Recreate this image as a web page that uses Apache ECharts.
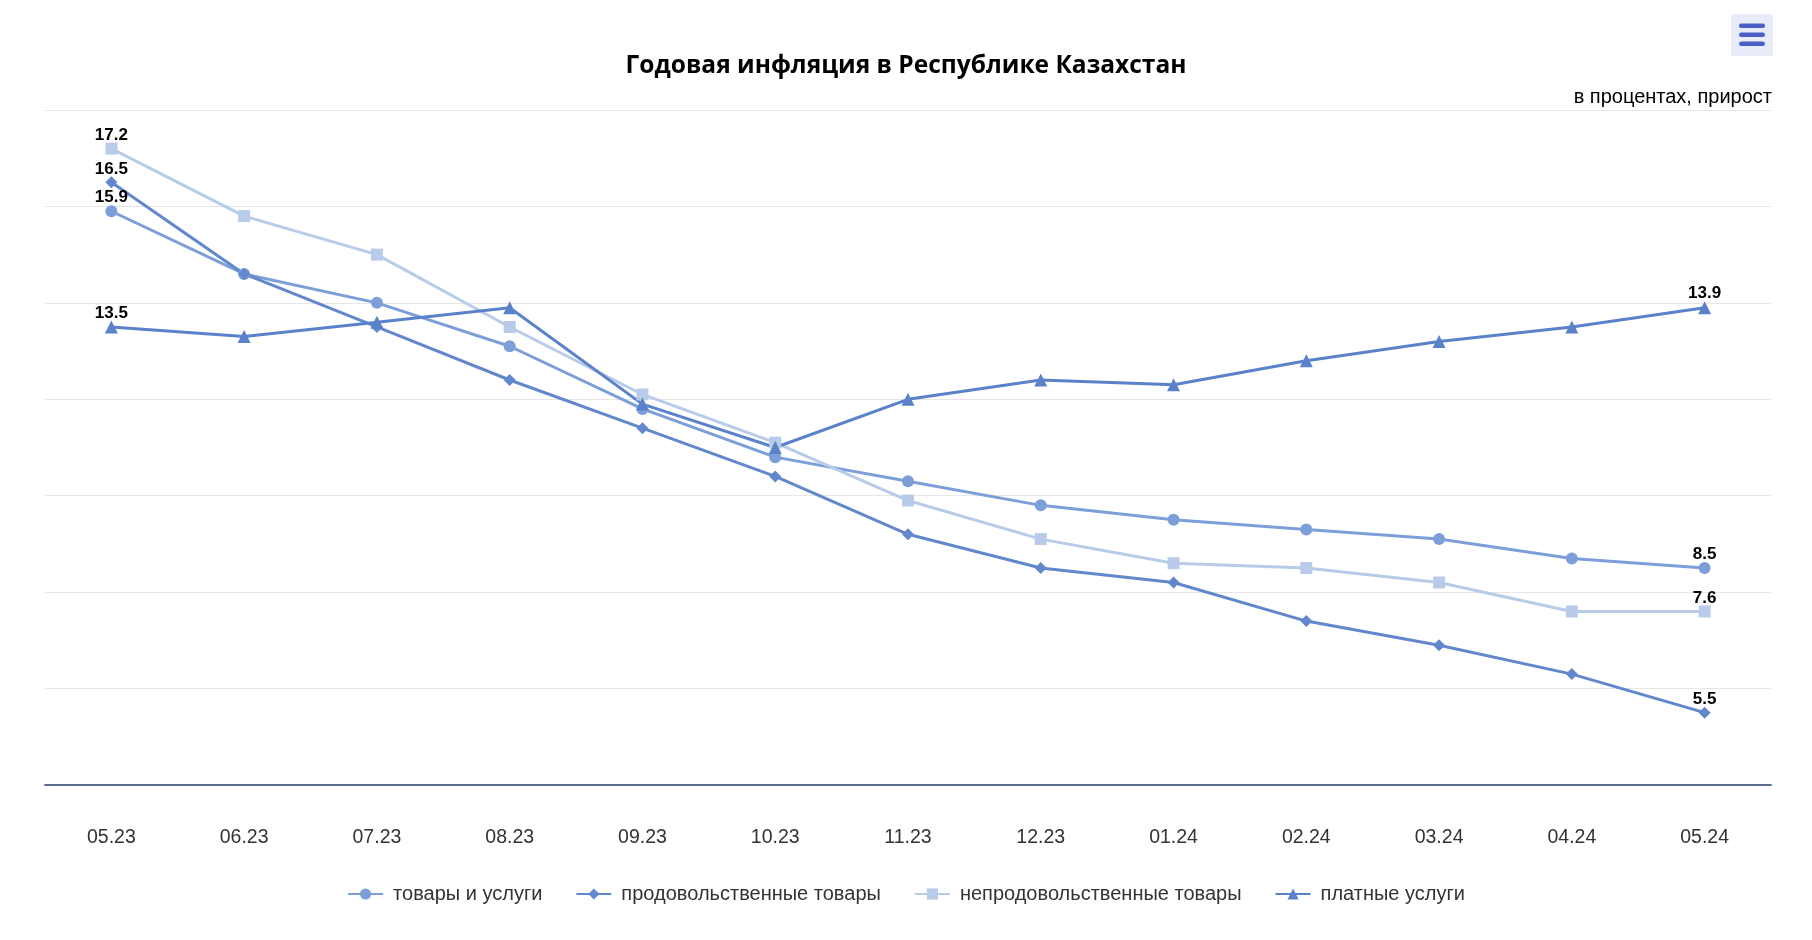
<!DOCTYPE html>
<html>
<head>
<meta charset="utf-8">
<script src="https://cdn.jsdelivr.net/npm/echarts@6/dist/echarts.min.js"></script>
<style>
html,body{margin:0;padding:0;background:#fff;}
#chart{width:1812px;height:940px;}
</style>
</head>
<body>
<div id="chart"></div>
<script>
const categories = ['05.23','06.23','07.23','08.23','09.23','10.23','11.23','12.23','01.24','02.24','03.24','04.24','05.24'];
const goodsServices = [15.9,14.6,14.0,13.1,11.8,10.8,10.3,9.8,9.5,9.3,9.1,8.7,8.5];
const foodGoods = [16.5,14.6,13.5,12.4,11.4,10.4,9.2,8.5,8.2,7.4,6.9,6.3,5.5];
const nonFoodGoods = [17.2,15.8,15.0,13.5,12.1,11.1,9.9,9.1,8.6,8.5,8.2,7.6,7.6];
const paidServices = [13.5,13.3,13.6,13.9,11.9,11.0,12.0,12.4,12.3,12.8,13.2,13.5,13.9];
const seriesNames = ['товары и услуги','продовольственные товары','непродовольственные товары','платные услуги'];
const titleText = 'Годовая инфляция в Республике Казахстан';
const subtitleText = 'в процентах, прирост';

const chart = echarts.init(document.getElementById('chart'));
const last = categories.length - 1;
function mk(name, data, color, symbol, size) {
  return {
    name: name, type: 'line', data: data,
    symbol: symbol, symbolSize: size,
    lineStyle: {color: color, width: 3},
    itemStyle: {color: color},
    label: {
      show: true, position: 'top', distance: -1,
      fontFamily: 'Liberation Sans', fontWeight: 'bold', fontSize: 17, color: '#000',
      formatter: p => (p.dataIndex === 0 || p.dataIndex === last) ? p.value.toFixed(1) : ''
    },
    emphasis: {disabled: true},
    animation: false
  };
}
chart.setOption({
  backgroundColor: '#fff',
  title: [
    {text: titleText, left: 'center', top: 49,
     textStyle: {fontFamily: 'Open Sans', fontWeight: 'bold', fontSize: 24.5, color: '#000'}},
    {text: subtitleText, right: 40, top: 87, padding: 0,
     textStyle: {fontFamily: 'Liberation Sans', fontWeight: 'normal', fontSize: 20, color: '#000'}}
  ],
  grid: {left: 45, right: 41, top: 110, bottom: 155, containLabel: false},
  xAxis: {
    type: 'category', data: categories, boundaryGap: true,
    axisLine: {lineStyle: {color: '#5b6e8f', width: 2}},
    axisTick: {show: false},
    axisLabel: {margin: 43, fontFamily: 'Liberation Sans', fontSize: 19.5, color: '#333'}
  },
  yAxis: {
    type: 'value', min: 4, max: 18, interval: 2,
    axisLabel: {show: false}, axisLine: {show: false}, axisTick: {show: false},
    splitLine: {lineStyle: {color: '#e6e6e6', width: 1}}
  },
  legend: {
    data: seriesNames, bottom: 31, left: 'center',
    itemWidth: 35, itemHeight: 14, itemGap: 33,
    textStyle: {fontFamily: 'Liberation Sans', fontSize: 20, color: '#333', padding: [0, 0, 0, 5]}
  },
  graphic: [
    {type: 'rect', shape: {x: 1731, y: 14, width: 42, height: 42, r: 3}, style: {fill: '#e8ecf8'}},
    {type: 'rect', shape: {x: 1739, y: 23.5, width: 26, height: 4.5, r: 2.2}, style: {fill: '#4a5fc4'}},
    {type: 'rect', shape: {x: 1739, y: 32.5, width: 26, height: 4.5, r: 2.2}, style: {fill: '#4a5fc4'}},
    {type: 'rect', shape: {x: 1739, y: 41.5, width: 26, height: 4.5, r: 2.2}, style: {fill: '#4a5fc4'}}
  ],
  series: [
    mk(seriesNames[0], goodsServices, '#7c9fd9', 'circle', 12),
    mk(seriesNames[1], foodGoods, '#6187cc', 'diamond', 12),
    mk(seriesNames[2], nonFoodGoods, '#b8cbe9', 'rect', 12),
    mk(seriesNames[3], paidServices, '#5a82cb', 'triangle', 13)
  ]
});
</script>
</body>
</html>
